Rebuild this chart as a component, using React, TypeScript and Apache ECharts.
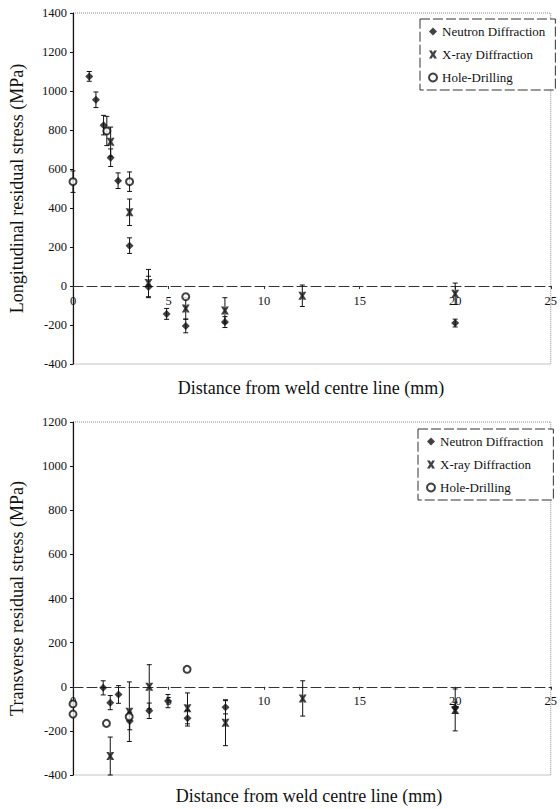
import React, { useEffect, useRef } from 'react';
import * as echarts from 'echarts';

const METHODS = ['Neutron Diffraction', 'X-ray Diffraction', 'Hole-Drilling'];

// [distance (mm), stress (MPa), error (MPa)]
const neutronLong = [
  [0.85, 1075, 25], [1.2, 955, 40], [1.6, 825, 50], [1.97, 658, 45], [2.36, 540, 40],
  [2.96, 207, 40], [3.95, -5, 55], [4.9, -143, 28], [5.9, -205, 35], [7.95, -185, 28], [20, -190, 20],
];
const xrayLong = [
  [1.97, 740, 75], [2.96, 378, 68], [3.95, 15, 70], [5.9, -115, 55], [7.95, -125, 65],
  [12, -50, 55], [20, -40, 55],
];
const holeLong = [
  [0, 535, 55], [1.77, 795, 75], [2.96, 535, 50], [5.9, -55, 0],
];

const neutronTrans = [
  [1.58, -5, 32], [1.95, -72, 32], [2.38, -35, 40], [2.97, -155, 40], [3.99, -109, 35],
  [4.97, -65, 30], [5.99, -143, 35], [7.98, -93, 30], [20, -95, 25],
];
const xrayTrans = [
  [1.95, -314, 86], [2.95, -113, 135], [3.99, 0, 100], [5.99, -98, 70], [7.98, -163, 104],
  [12.02, -53, 80], [20, -105, 95],
];
const holeTrans = [
  [0, -78, 0], [0, -124, 0], [1.75, -166, 0], [2.94, -136, 0], [5.97, 79, 0],
];

const X_RANGE = [0, 25];
const Y_RANGE_TOP = [-400, 1400];
const Y_RANGE_BOTTOM = [-400, 1200];

const X_TITLE = 'Distance from weld centre line (mm)';
const Y_TITLE_TOP = 'Longitudinal residual stress (MPa)';
const Y_TITLE_BOTTOM = 'Transverse residual stress (MPa)';

const FONT = '"Liberation Serif", "Times New Roman", serif';
const INK = '#111';
const XRAY_PATH =
  'path://M0,0 L3.6,0 L5,2.8 L6.4,0 L10,0 L6.9,5 L10,10 L6.4,10 L5,7.2 L3.6,10 L0,10 L3.1,5 Z';

const GRIDS = [
  { left: 67, right: 3, top: 13, bottom: 445 },
  { left: 63, right: 6, top: 422, bottom: 34 },
];
const PAGE_H = 809;

function errorSeries(name: string, data: number[][], idx: number) {
  return {
    type: 'custom',
    name,
    xAxisIndex: idx,
    yAxisIndex: idx,
    z: 1,
    data: data.filter((d) => d[2] > 0),
    encode: { x: 0, y: 1 },
    renderItem: (_params: any, api: any) => {
      const x = api.value(0);
      const y = api.value(1);
      const e = api.value(2);
      const hi = api.coord([x, y + e]);
      const lo = api.coord([x, y - e]);
      const c = 2.5;
      const style = { stroke: INK, lineWidth: 1 };
      return {
        type: 'group',
        children: [
          { type: 'line', shape: { x1: hi[0], y1: hi[1], x2: lo[0], y2: lo[1] }, style },
          { type: 'line', shape: { x1: hi[0] - c, y1: hi[1], x2: hi[0] + c, y2: hi[1] }, style },
          { type: 'line', shape: { x1: lo[0] - c, y1: lo[1], x2: lo[0] + c, y2: lo[1] }, style },
        ],
      };
    },
  };
}

function markerSeries(k: number, data: number[][], idx: number) {
  const symbols = ['diamond', XRAY_PATH, 'emptyCircle'];
  const sizes = [8, 8, 7];
  return {
    type: 'scatter',
    name: METHODS[k],
    xAxisIndex: idx,
    yAxisIndex: idx,
    z: 3,
    symbol: symbols[k],
    symbolSize: sizes[k],
    itemStyle: k === 2 ? { color: INK, borderColor: INK, borderWidth: 1.6 } : { color: INK },
    data: data.map((d) => [d[0], d[1]]),
  };
}

// x axis is drawn through y = 0 (labels included), via an offset derived from the y scale
function xAxis(idx: number, yRange: number[]) {
  const g = GRIDS[idx];
  const h = PAGE_H - g.top - g.bottom;
  const zeroOffset = -h * (0 - yRange[0]) / (yRange[1] - yRange[0]);
  return {
    type: 'value',
    gridIndex: idx,
    min: X_RANGE[0],
    max: X_RANGE[1],
    interval: 5,
    position: 'bottom',
    offset: zeroOffset,
    axisLine: { onZero: false, lineStyle: { color: '#333', width: 1, type: [10, 4] } },
    axisTick: { show: true, length: 3, lineStyle: { color: '#333' } },
    axisLabel: { color: INK, fontFamily: FONT, fontSize: 12.5, margin: 8 },
    splitLine: { show: false },
  };
}

function yAxis(idx: number, range: number[], name: string, gap: number) {
  return {
    type: 'value',
    gridIndex: idx,
    min: range[0],
    max: range[1],
    interval: 200,
    name,
    nameLocation: 'middle',
    nameGap: gap,
    nameTextStyle: { color: INK, fontFamily: FONT, fontSize: 18 },
    axisLine: { show: true, onZero: false, lineStyle: { color: INK, width: 1.2 } },
    axisTick: { show: true, length: 3, lineStyle: { color: INK } },
    axisLabel: {
      color: INK,
      fontFamily: FONT,
      fontSize: 12.5,
      margin: 6,
      formatter: (v: number) => String(v),
    },
    splitLine: { show: false },
  };
}

function legend(left: number, top: number) {
  return {
    left,
    top,
    orient: 'vertical',
    data: METHODS,
    itemWidth: 8,
    itemHeight: 8,
    itemGap: 10,
    padding: [6, 10, 6, 8],
    borderColor: '#333',
    borderWidth: 1,
    borderType: [10, 3],
    backgroundColor: '#fff',
    textStyle: { color: INK, fontFamily: FONT, fontSize: 13 },
  };
}

export default function App() {
  const ref = useRef<HTMLDivElement>(null);

  useEffect(() => {
    if (!ref.current) return;
    const chart = echarts.init(ref.current, undefined, { renderer: 'svg' });
    const gridStyle = {
      show: true,
      backgroundColor: '#fff',
      borderColor: '#888',
      borderWidth: 1,
      borderType: 'dotted',
    };
    chart.setOption({
      animation: false,
      backgroundColor: '#fff',
      grid: GRIDS.map((g) => ({ ...gridStyle, ...g })),
      xAxis: [xAxis(0, Y_RANGE_TOP), xAxis(1, Y_RANGE_BOTTOM)],
      yAxis: [
        yAxis(0, Y_RANGE_TOP, Y_TITLE_TOP, 47),
        yAxis(1, Y_RANGE_BOTTOM, Y_TITLE_BOTTOM, 47),
      ],
      legend: [legend(420, 19), legend(418, 429)],
      graphic: [
        {
          type: 'text',
          x: 311,
          y: 388,
          style: { text: X_TITLE, align: 'center', verticalAlign: 'middle', fill: INK, font: `18px ${FONT}` },
        },
        {
          type: 'text',
          x: 309,
          y: 796,
          style: { text: X_TITLE, align: 'center', verticalAlign: 'middle', fill: INK, font: `18px ${FONT}` },
        },
      ],
      series: [
        markerSeries(0, neutronLong, 0),
        markerSeries(1, xrayLong, 0),
        markerSeries(2, holeLong, 0),
        markerSeries(0, neutronTrans, 1),
        markerSeries(1, xrayTrans, 1),
        markerSeries(2, holeTrans, 1),
        errorSeries('nd-err-l', neutronLong, 0),
        errorSeries('xr-err-l', xrayLong, 0),
        errorSeries('hd-err-l', holeLong, 0),
        errorSeries('nd-err-t', neutronTrans, 1),
        errorSeries('xr-err-t', xrayTrans, 1),
        errorSeries('hd-err-t', holeTrans, 1),
      ],
    });
    return () => chart.dispose();
  }, []);

  return (
    <div
      ref={ref}
      style={{ position: 'fixed', left: 0, top: 0, width: 560, height: 809, background: '#fff' }}
    />
  );
}
